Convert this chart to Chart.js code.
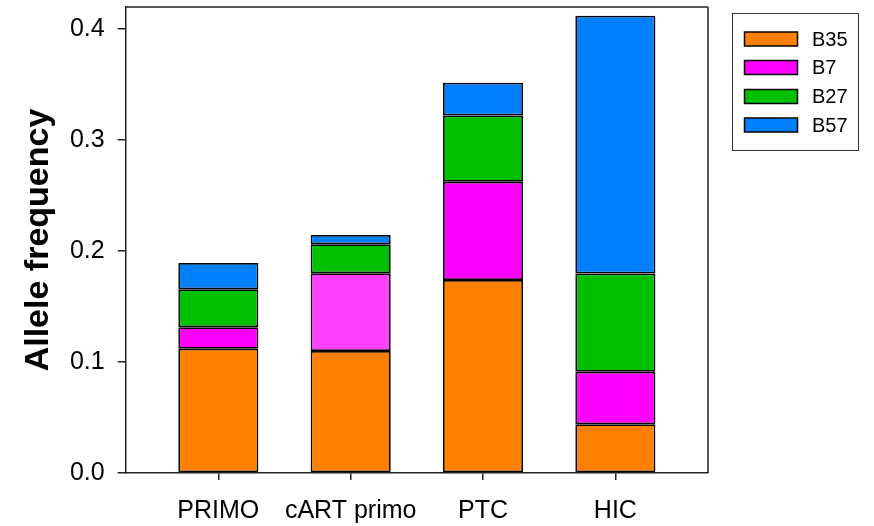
<!DOCTYPE html>
<html>
<head>
<meta charset="utf-8">
<script src="https://cdn.jsdelivr.net/npm/chart.js@4/dist/chart.umd.min.js"></script>
<style>
html,body{margin:0;padding:0;background:#fff;}
#wrap{width:874px;height:526px;position:relative;}
</style>
</head>
<body>
<div id="wrap"><canvas id="c" width="874" height="526"></canvas></div>
<script>
const categories = ["PRIMO", "cART primo", "PTC", "HIC"];
const seriesNames = ["B35", "B7", "B27", "B57"];
const b35 = [0.112, 0.110, 0.174, 0.044];
const b7  = [0.0194, 0.070, 0.0884, 0.0472];
const b27 = [0.0343, 0.0262, 0.0598, 0.0886];
const b57 = [0.0235, 0.0084, 0.0295, 0.2324];
const yTicks = [0.0, 0.1, 0.2, 0.3, 0.4];

const colors = {
  B35: "#FF8000",
  B7: ["#FF00FF", "#FF40FF", "#FF00FF", "#FF00FF"],
  B27: "#00C000",
  B57: "#0080FF"
};
const legendColors = ["#FF8000", "#FF00FF", "#00C000", "#0080FF"];
const FONT = "'Liberation Sans', Arial, sans-serif";

function toPts(arr){ return arr.map((v,i)=>({x:i, y:v})); }

const seriesData = [b35, b7, b27, b57];
const datasets = seriesNames.map((name, k) => ({
  label: name,
  data: toPts(seriesData[k]),
  backgroundColor: colors[name],
  borderColor: "#000",
  borderWidth: 1.75,
  borderSkipped: false,
  barPercentage: 0.605,
  categoryPercentage: 1.0
}));

const framePlugin = {
  id: "frame",
  afterDraw(chart){
    const {ctx, chartArea:a} = chart;
    ctx.save();
    ctx.strokeStyle = "#222";
    ctx.lineWidth = 1.5;
    ctx.beginPath();
    ctx.moveTo(a.left, a.top); ctx.lineTo(a.right, a.top);
    ctx.moveTo(a.right, a.top); ctx.lineTo(a.right, a.bottom);
    ctx.stroke();
    ctx.restore();
  }
};

const legendPlugin = {
  id: "boxLegend",
  afterDraw(chart){
    const ctx = chart.ctx;
    ctx.save();
    ctx.strokeStyle = "#333";
    ctx.lineWidth = 1;
    ctx.strokeRect(732.5, 13.5, 126, 137);
    ctx.font = "20px " + FONT;
    ctx.textBaseline = "middle";
    ctx.textAlign = "left";
    const rows = [39, 67.5, 96.5, 125];
    chart.data.datasets.forEach((ds, i) => {
      const y = rows[i];
      ctx.fillStyle = legendColors[i];
      ctx.fillRect(744.5, y - 7, 53, 14);
      ctx.strokeStyle = "#000";
      ctx.lineWidth = 1.5;
      ctx.strokeRect(744.5, y - 7, 53, 14);
      ctx.fillStyle = "#000";
      ctx.fillText(ds.label, 812, y + 1);
    });
    ctx.restore();
  }
};

new Chart(document.getElementById("c"), {
  type: "bar",
  data: { datasets },
  options: {
    responsive: false,
    animation: false,
    devicePixelRatio: 1,
    layout: { padding: { left: 0, top: 7, right: 166, bottom: 0 } },
    plugins: { legend: { display: false }, tooltip: { enabled: false } },
    scales: {
      x: {
        type: "linear",
        stacked: true,
        offset: false,
        min: -0.7,
        max: 3.7,
        afterBuildTicks(scale){ scale.ticks = categories.map((c,i)=>({value:i})); },
        afterFit(scale){ scale.height = 53; scale.paddingLeft = 0; scale.paddingRight = 0; },
        ticks: {
          autoSkip: false,
          maxRotation: 0,
          padding: 16,
          color: "#000",
          font: { family: FONT, size: 25 },
          callback: (v) => categories[v]
        },
        grid: { display: true, offset: false, drawOnChartArea: false, drawTicks: true, tickLength: 7, color: "#222", lineWidth: 1.5 },
        border: { display: true, color: "#222", width: 1.5 }
      },
      y: {
        stacked: true,
        min: 0,
        max: 0.42,
        afterBuildTicks(scale){ scale.ticks = yTicks.map(v=>({value:v})); },
        afterFit(scale){ scale.width = 125.7; scale.paddingTop = 0; scale.paddingBottom = 0; },
        ticks: {
          padding: 13,
          color: "#000",
          font: { family: FONT, size: 25 },
          callback: (v) => Number(v).toFixed(1)
        },
        title: {
          display: true,
          text: "Allele frequency",
          color: "#000",
          font: { family: FONT, size: 34, weight: "bold" },
          padding: { top: 18, bottom: 0 }
        },
        grid: { display: true, drawOnChartArea: false, drawTicks: true, tickLength: 8, color: "#222", lineWidth: 1.5 },
        border: { display: true, color: "#222", width: 1.5 }
      }
    }
  },
  plugins: [framePlugin, legendPlugin]
});
</script>
</body>
</html>
